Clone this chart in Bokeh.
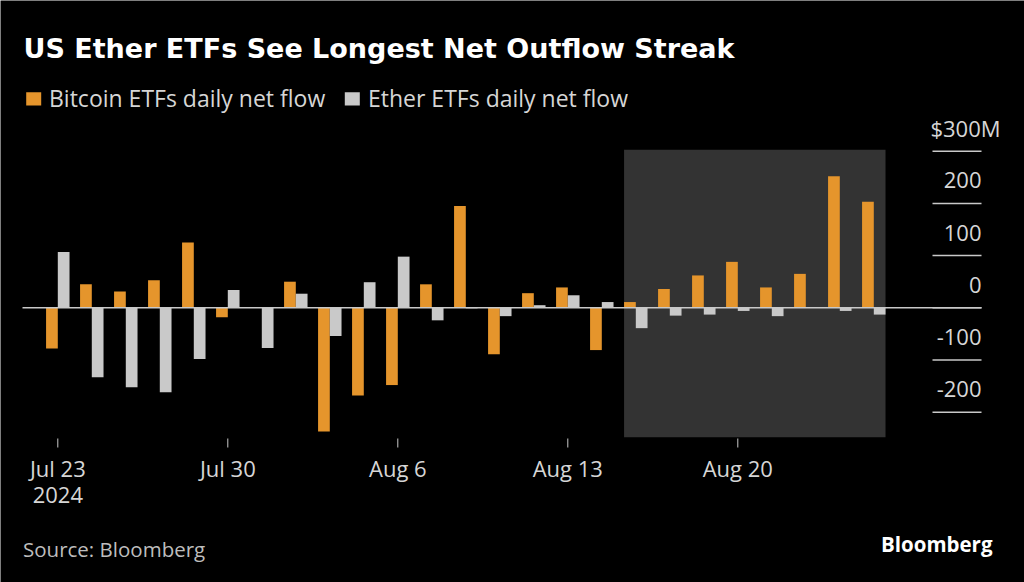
from bokeh.plotting import figure
from bokeh.models import Range1d, ColumnDataSource
from bokeh.embed import file_html
from bokeh.resources import INLINE
from bokeh.core.properties import value

# ---------------- data ----------------
title_text = "US Ether ETFs See Longest Net Outflow Streak"
series_names = ["Bitcoin ETFs daily net flow", "Ether ETFs daily net flow"]
dates = ["2024-07-23", "2024-07-24", "2024-07-25", "2024-07-26", "2024-07-29",
         "2024-07-30", "2024-07-31", "2024-08-01", "2024-08-02", "2024-08-05",
         "2024-08-06", "2024-08-07", "2024-08-08", "2024-08-09", "2024-08-12",
         "2024-08-13", "2024-08-14", "2024-08-15", "2024-08-16", "2024-08-19",
         "2024-08-20", "2024-08-21", "2024-08-22", "2024-08-23", "2024-08-26"]
bitcoin_flow = [-78, 45, 31, 53, 125, -18, 1, 50, -237, -168, -148, 45, 195,
                -89, 28, 39, -81, 11, 36, 62, 88, 39, 65, 252, 203]
ether_flow = [107, -133, -152, -162, -98, 34, -77, 27, -54, 49, 98, -24, -1,
              -16, 5, 24, 11, -39, -15, -13, -6, -16, 0, -6, -13]
x_tick_dates = ["2024-07-23", "2024-07-30", "2024-08-06", "2024-08-13", "2024-08-20"]
x_tick_labels = ["Jul 23", "Jul 30", "Aug 6", "Aug 13", "Aug 20"]
year_label = "2024"
y_ticks = [-200, -100, 0, 100, 200, 300]
y_tick_labels = ["-200", "-100", "0", "100", "200", "$300M"]
highlight_dates = ["2024-08-15", "2024-08-26"]
source_text = "Source: Bloomberg"
brand_text = "Bloomberg"

# ---------------- style / layout (pixel geometry) ----------------
ORANGE = "#e5952c"
GRAY = "#c9c9c9"
SHADE = "#333333"
TXT = "#d6d6d6"
FONT = "Open Sans"

W, H = 1024, 582
PX_DAY = 34.0        # px per trading day
X0_PX = 57.3         # px of first day centre
ZERO_PX = 307.3      # px of the zero line
PX_PER_M = 0.522     # px per $1M
PLOT_L, PLOT_R = 22, 981
PLOT_T, PLOT_B = 149.3, 436.7


def X(px):
    return (px - X0_PX) / PX_DAY


def Y(py):
    return (ZERO_PX - py) / PX_PER_M


p = figure(width=W, height=H, output_backend="svg", toolbar_location=None,
           x_range=Range1d(X(0), X(W)), y_range=Range1d(Y(H), Y(0)),
           x_axis_location=None, y_axis_location=None, min_border=0)
p.background_fill_color = "black"
p.border_fill_color = "black"
p.outline_line_color = None
p.xgrid.visible = False
p.ygrid.visible = False

idx = list(range(len(dates)))
bw = 0.345

# highlighted period
h0 = dates.index(highlight_dates[0])
h1 = dates.index(highlight_dates[1])
p.quad(left=[h0 - bw], right=[h1 + bw], bottom=[Y(PLOT_B)], top=[Y(PLOT_T)],
       fill_color=SHADE, line_color=None)

# bars
src = ColumnDataSource(dict(
    xb=[i - bw / 2 for i in idx], xe=[i + bw / 2 for i in idx],
    btc=bitcoin_flow, eth=ether_flow))
p.vbar(x="xb", top="btc", bottom=0, width=bw, source=src,
       fill_color=ORANGE, line_color=None)
p.vbar(x="xe", top="eth", bottom=0, width=bw, source=src,
       fill_color=GRAY, line_color=None)

# zero line across the plot
p.segment(x0=[X(PLOT_L)], x1=[X(PLOT_R)], y0=[0], y1=[0],
          line_color=GRAY, line_width=1.5)

# right-hand value scale: short rules with labels above them
n = len(y_ticks)
p.segment(x0=[X(PLOT_R - 49)] * n, x1=[X(PLOT_R)] * n, y0=y_ticks, y1=y_ticks,
          line_color=GRAY, line_width=1.5)
offsets = [19 if lab.endswith("M") else 0 for lab in y_tick_labels]
p.text(x=[X(PLOT_R)] * n, y=y_ticks, text=y_tick_labels,
       x_offset=offsets, y_offset=-23, text_align="right", text_baseline="middle",
       text_font=value(FONT), text_font_size="22px", text_color=TXT)

# date axis: ticks and labels
tick_pos = [dates.index(d) for d in x_tick_dates]
m = len(tick_pos)
p.segment(x0=tick_pos, x1=tick_pos, y0=[Y(438)] * m, y1=[Y(447)] * m,
          line_color=GRAY, line_width=1)
p.text(x=tick_pos, y=[Y(467.5)] * m, text=x_tick_labels, text_align="center",
       text_baseline="middle", text_font=value(FONT),
       text_font_size="22px", text_color=TXT)
p.text(x=[tick_pos[0]], y=[Y(494.5)], text=[year_label], text_align="center",
       text_baseline="middle", text_font=value(FONT),
       text_font_size="22px", text_color=TXT)

# title
p.text(x=[X(23)], y=[Y(48)], text=[title_text], text_font=value("DejaVu Sans"),
       text_font_style="bold", text_font_size="27px", text_color="white",
       text_baseline="middle")

# legend
p.rect(x=[X(33.2), X(351.8)], y=[Y(98.4)] * 2, width=15 / PX_DAY,
       height=13.3 / PX_PER_M, fill_color=[ORANGE, GRAY], line_color=None)
p.text(x=[X(48.5), X(367.5)], y=[Y(97)] * 2, text=series_names,
       text_font=value(FONT), text_font_size="23px", text_color=TXT,
       text_baseline="middle")

# footer
p.text(x=[X(22.5)], y=[Y(548)], text=[source_text], text_font=value(FONT),
       text_font_size="20.5px", text_color="#bdbdbd", text_baseline="middle")
p.text(x=[X(992)], y=[Y(543.5)], text=[brand_text], text_font=value(FONT),
       text_font_style="bold", text_font_size="20.5px", text_color="white",
       text_align="right", text_baseline="middle")

open("out.html", "w").write(file_html(p, INLINE))
